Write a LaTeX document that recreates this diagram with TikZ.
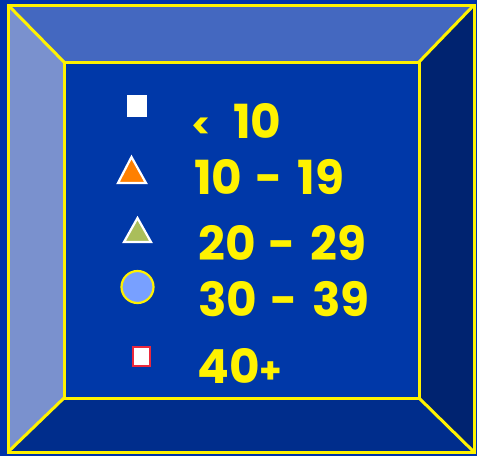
\documentclass[tikz,border=0pt]{standalone}
\usepackage{fontspec}
\setmainfont{Poppins}[BoldFont={* Bold}]
\definecolor{deepblue}{RGB}{0,51,170}
\definecolor{facetop}{RGB}{68,104,192}
\definecolor{faceleft}{RGB}{122,145,206}
\definecolor{faceright}{RGB}{0,35,112}
\definecolor{facebottom}{RGB}{0,45,140}
\definecolor{panel}{RGB}{0,56,168}
\definecolor{signorange}{RGB}{255,128,0}
\definecolor{signolive}{RGB}{170,190,90}
\definecolor{signsky}{RGB}{120,160,255}
\definecolor{signred}{RGB}{235,40,60}
\newcommand{\smallsign}[1]{{\fontsize{36}{36}\selectfont #1}}
\tikzset{
  bevel/.style={draw=yellow, line width=3pt, line join=miter},
  rangelabel/.style={anchor=base west, text=yellow, font=\bfseries\fontsize{47}{47}\selectfont, inner sep=0pt},
  boxmark/.style={rectangle, fill=white, minimum width=20pt, minimum height=22pt, inner sep=0pt},
  trimark/.style={draw=white, line width=2.2pt, line join=miter},
  dotmark/.style={circle, fill=signsky, draw=yellow, line width=2.2pt, minimum size=32pt, inner sep=0pt}
}
\begin{document}
\begin{tikzpicture}[x=1pt, y=-1pt]
  \fill[deepblue] (0,0) rectangle (477,456);
  \useasboundingbox (0,0) rectangle (477,456);
  % bevelled frame
  \coordinate (o1) at (8,5);   \coordinate (o2) at (474,5);
  \coordinate (o3) at (474,452); \coordinate (o4) at (8,452);
  \coordinate (i1) at (64,62);  \coordinate (i2) at (419,62);
  \coordinate (i3) at (419,398); \coordinate (i4) at (64,398);
  \fill[facetop] (o1)--(o2)--(i2)--(i1)--cycle;
  \fill[faceleft] (o1)--(i1)--(i4)--(o4)--cycle;
  \fill[faceright] (o2)--(o3)--(i3)--(i2)--cycle;
  \fill[facebottom] (o4)--(i4)--(i3)--(o3)--cycle;
  \fill[panel] (i1) rectangle (i3);
  \draw[bevel] (o1)--(o2)--(o3)--(o4)--cycle;
  \draw[bevel] (i1)--(i2)--(i3)--(i4)--cycle;
  \draw[bevel] (o1)--(i1); \draw[bevel] (o2)--(i2);
  \draw[bevel] (o3)--(i3); \draw[bevel] (o4)--(i4);
  % legend marks
  \node[boxmark] (m1) at (137,106) {};
  \filldraw[trimark, fill=signorange] (131.5,157) -- (146,183) -- (118,183) -- cycle;
  \filldraw[trimark, fill=signolive] (137.5,218) -- (151,242) -- (124,242) -- cycle;
  \node[dotmark] (m4) at (137.5,287) {};
  \node[boxmark, draw=signred, line width=2pt, minimum width=17pt, minimum height=19pt] (m5) at (141.5,356.5) {};
  % legend texts
  \node[rangelabel] (t1) at (191,138) {\smallsign{<}\hspace{22pt}10};
  \node[rangelabel] (t2) at (194,194) {10\hspace{13pt}-\hspace{15pt}19};
  \node[rangelabel] (t3) at (198,260) {20\hspace{13pt}-\hspace{15pt}29};
  \node[rangelabel] (t4) at (198,316) {30\hspace{13pt}-\hspace{15pt}39};
  \node[rangelabel] (t5) at (197,383) {40\smallsign{+}};
\end{tikzpicture}
\end{document}
